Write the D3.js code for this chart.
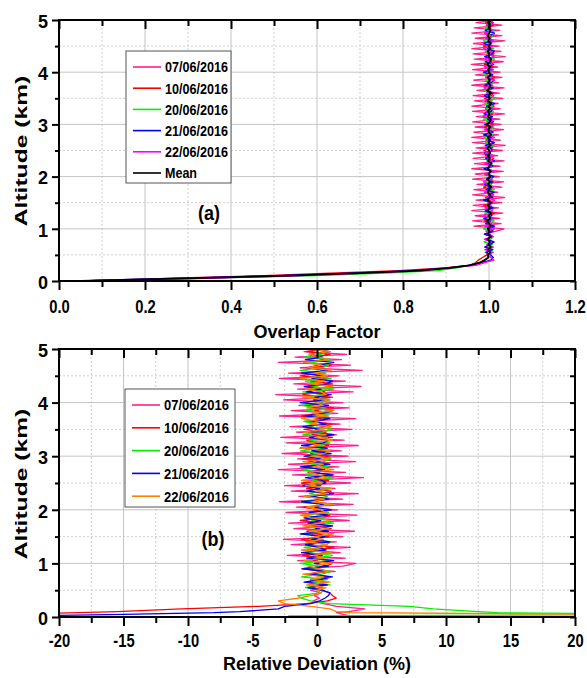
<!DOCTYPE html>
<html>
<head>
<meta charset="utf-8">
<script src="https://cdn.jsdelivr.net/npm/d3@7"></script>
<style>
  body { margin: 0; background: #fff; }
  text { font-family: "Liberation Sans", Arial, sans-serif; font-weight: bold; fill: #000; }
</style>
</head>
<body>
<svg id="chart" width="587" height="678"></svg>
<script>
// altitude grid (km), shared by every profile
const altitude = [
  0, 0.02, 0.05, 0.08, 0.1, 0.15, 0.2, 0.25, 0.3, 0.35,
  0.4, 0.45, 0.5, 0.55, 0.6, 0.65, 0.7, 0.75, 0.8, 0.85,
  0.9, 0.95, 1.0, 1.05, 1.1, 1.15, 1.2, 1.25, 1.3, 1.35,
  1.4, 1.45, 1.5, 1.55, 1.6, 1.65, 1.7, 1.75, 1.8, 1.85,
  1.9, 1.95, 2.0, 2.05, 2.1, 2.15, 2.2, 2.25, 2.3, 2.35,
  2.4, 2.45, 2.5, 2.55, 2.6, 2.65, 2.7, 2.75, 2.8, 2.85,
  2.9, 2.95, 3.0, 3.05, 3.1, 3.15, 3.2, 3.25, 3.3, 3.35,
  3.4, 3.45, 3.5, 3.55, 3.6, 3.65, 3.7, 3.75, 3.8, 3.85,
  3.9, 3.95, 4.0, 4.05, 4.1, 4.15, 4.2, 4.25, 4.3, 4.35,
  4.4, 4.45, 4.5, 4.55, 4.6, 4.65, 4.7, 4.75, 4.8, 4.85,
  4.9, 4.95, 5.0
];

// (a) overlap factor
const overlap0706 = [
  0.05, 0.15, 0.31, 0.45, 0.54, 0.72, 0.85, 0.915, 0.955, 0.978,
  0.990, 1.000, 0.996, 1.004, 0.994, 1.007, 0.995, 1.008, 0.992, 1.010,
  0.990, 1.015, 1.035, 0.965, 1.028, 0.962, 1.025, 0.968, 1.032, 0.960,
  1.022, 0.963, 1.030, 0.970, 1.036, 0.962, 1.020, 0.965, 1.030, 0.972,
  1.034, 0.962, 1.024, 0.968, 1.033, 0.960, 1.026, 0.966, 1.035, 0.963,
  1.020, 0.962, 1.031, 0.970, 1.038, 0.962, 1.027, 0.960, 1.022, 0.965,
  1.034, 0.968, 1.028, 0.962, 1.025, 0.970, 1.036, 0.962, 1.026, 0.960,
  1.021, 0.966, 1.032, 0.963, 1.024, 0.972, 1.035, 0.960, 1.022, 0.964,
  1.030, 0.968, 1.026, 0.962, 1.020, 0.959, 1.033, 0.966, 1.038, 0.963,
  1.028, 0.960, 1.023, 0.964, 1.037, 0.968, 1.030, 0.960, 1.025, 0.966,
  1.030, 0.970, 1.015
];
const overlap1006 = [
  0.05, 0.13, 0.25, 0.37, 0.46, 0.63, 0.79, 0.895, 0.955, 0.968,
  0.975, 0.985, 0.995, 0.996, 1.006, 0.992, 1.002, 1.009, 0.994, 1.004,
  0.990, 1.007, 1.012, 0.997, 1.005, 0.989, 1.008, 0.998, 1.013, 0.993,
  1.003, 0.988, 1.009, 1.001, 0.992, 1.011, 0.995, 1.006, 0.987, 1.004,
  1.010, 0.994, 1.002, 0.990, 1.012, 0.996, 1.007, 0.991, 1.005, 1.011,
  0.992, 1.003, 0.988, 1.009, 0.998, 1.013, 0.993, 1.004, 0.990, 1.008,
  1.002, 0.989, 1.010, 0.995, 1.006, 0.987, 1.009, 1.000, 0.992, 1.012,
  0.996, 1.007, 0.990, 1.005, 1.011, 0.994, 1.003, 0.988, 1.008, 0.998,
  1.013, 0.991, 1.004, 0.997, 1.010, 0.989, 1.006, 1.002, 0.993, 1.012,
  0.995, 1.008, 0.987, 1.003, 1.009, 0.994, 1.011, 0.990, 1.005, 0.998,
  1.010, 0.992, 1.004
];
const overlap2006 = [
  0.05, 0.16, 0.33, 0.48, 0.58, 0.76, 0.88, 0.925, 0.952, 0.975,
  1.012, 1.003, 1.005, 0.991, 1.010, 0.997, 1.008, 0.988, 1.004, 1.011,
  0.994, 1.002, 0.987, 1.009, 0.999, 1.012, 0.992, 1.005, 0.990, 1.007,
  1.011, 0.995, 1.003, 0.988, 1.008, 1.000, 0.991, 1.013, 0.996, 1.006,
  0.989, 1.009, 1.002, 0.993, 1.012, 0.987, 1.004, 1.008, 0.994, 1.001,
  1.010, 0.990, 1.006, 0.997, 1.013, 0.992, 1.002, 0.988, 1.009, 0.996,
  1.005, 1.011, 0.991, 1.003, 0.987, 1.007, 0.998, 1.010, 0.994, 1.008,
  0.989, 1.004, 1.012, 0.995, 1.000, 0.990, 1.009, 0.997, 1.011, 0.992,
  1.006, 0.988, 1.002, 1.010, 0.993, 1.005, 0.989, 1.013, 0.996, 1.003,
  0.991, 1.011, 0.998, 1.007, 0.987, 1.004, 1.009, 0.994, 1.012, 0.990,
  1.003, 1.008, 0.995
];
const overlap2106 = [
  0.05, 0.12, 0.26, 0.40, 0.49, 0.68, 0.82, 0.905, 0.950, 0.985,
  1.004, 1.010, 1.004, 0.993, 1.008, 0.990, 1.003, 1.012, 0.995, 1.006,
  0.989, 1.009, 0.998, 1.013, 0.992, 1.004, 0.988, 1.007, 1.001, 0.991,
  1.010, 0.996, 1.006, 0.987, 1.009, 0.999, 1.012, 0.993, 1.003, 0.990,
  1.008, 0.994, 1.011, 0.998, 1.005, 0.988, 1.009, 0.995, 1.013, 0.992,
  1.002, 0.989, 1.007, 1.004, 0.991, 1.012, 0.997, 1.006, 0.987, 1.010,
  0.993, 1.003, 0.990, 1.011, 0.996, 1.008, 0.988, 1.005, 1.009, 0.994,
  1.013, 0.992, 1.002, 0.989, 1.007, 0.997, 1.010, 0.991, 1.004, 1.012,
  0.995, 1.009, 0.987, 1.006, 0.998, 1.011, 0.992, 1.003, 0.990, 1.007,
  1.012, 0.996, 1.005, 0.988, 1.008, 0.993, 1.001, 1.013, 0.991, 1.004,
  0.994, 1.010, 0.997
];
const overlap2206 = [
  0.05, 0.17, 0.35, 0.45, 0.55, 0.71, 0.84, 0.90, 0.97, 0.99,
  1.010, 1.005, 0.998, 1.010, 0.990, 1.010, 0.995, 1.005, 0.989, 1.009,
  1.002, 0.993, 1.012, 0.990, 1.006, 0.997, 1.011, 0.988, 1.004, 1.008,
  0.991, 1.005, 0.998, 1.013, 0.994, 1.009, 0.989, 1.002, 1.010, 0.995,
  0.987, 1.007, 1.003, 0.992, 1.012, 0.996, 1.006, 0.990, 1.009, 0.999,
  1.011, 0.991, 1.004, 0.988, 1.008, 1.001, 0.994, 1.013, 0.997, 1.005,
  0.989, 1.009, 0.995, 1.006, 1.010, 0.987, 1.003, 0.993, 1.012, 0.998,
  1.007, 0.990, 1.004, 1.011, 0.994, 1.002, 0.988, 1.009, 0.996, 1.013,
  0.992, 1.005, 0.999, 1.010, 0.989, 1.007, 1.003, 0.991, 1.012, 0.995,
  1.006, 0.987, 1.008, 0.998, 1.011, 0.993, 1.004, 0.990, 1.009, 1.002,
  0.994, 1.010, 0.996
];
const overlapMean = [
  0.05, 0.15, 0.30, 0.43, 0.52, 0.70, 0.84, 0.91, 0.955, 0.978,
  0.990, 0.998, 0.998, 1.003, 0.997, 1.004, 0.999, 1.002, 0.996, 1.005,
  0.998, 1.001, 0.997, 1.004, 1.000, 0.996, 1.003, 0.999, 1.005, 0.997,
  1.002, 0.998, 1.004, 0.996, 1.001, 1.003, 0.997, 1.000, 1.005, 0.998,
  1.002, 0.996, 1.003, 0.999, 1.004, 0.997, 1.001, 1.005, 0.998, 1.002,
  0.997, 1.003, 1.000, 0.996, 1.004, 0.999, 1.002, 0.997, 1.005, 1.000,
  0.998, 1.003, 0.996, 1.002, 1.004, 0.998, 1.001, 0.997, 1.003, 0.999,
  1.005, 0.997, 1.002, 0.999, 1.004, 0.996, 1.001, 1.003, 0.998, 1.002,
  0.997, 1.004, 1.000, 0.998, 1.003, 0.996, 1.002, 1.005, 0.999, 1.001,
  0.997, 1.003, 0.999, 1.004, 0.998, 1.002, 0.996, 1.001, 1.003, 0.999,
  1.002, 0.998, 1.001
];

// (b) relative deviation from the mean (%)
const dev0706 = [
  3.0, 2.5, 2.0, 1.5, 2.5, 3.7, 1.5, 0.5, -0.3, 0.2,
  -0.2, 0.3, -0.5, 0.4, -0.6, 0.7, -0.5, 1.0, -0.9, 1.4,
  -1.2, 2.0, 3.0, -1.5, 2.2, -2.3, 1.8, -1.0, 2.6, -2.0,
  1.5, -2.6, 2.0, -1.2, 2.9, -1.8, 1.2, -2.2, 2.5, -0.8,
  3.1, -2.4, 1.6, -1.6, 2.8, -2.9, 2.0, -1.4, 3.2, -2.0,
  1.4, -2.5, 2.6, -1.1, 3.6, -1.9, 2.2, -3.0, 1.7, -2.2,
  3.0, -1.5, 2.4, -2.7, 1.9, -1.3, 3.2, -2.4, 2.1, -2.8,
  1.5, -1.6, 2.7, -2.1, 1.8, -1.0, 3.0, -2.9, 1.6, -2.0,
  2.5, -1.4, 2.0, -2.6, 1.2, -3.2, 2.8, -1.5, 3.4, -1.8,
  2.2, -2.9, 1.7, -2.2, 3.5, -1.3, 2.6, -3.0, 1.9, -1.7,
  2.3, -1.0, 1.2
];
const dev1006 = [
  -35, -30, -24, -18.5, -15.5, -10.5, -4.5, -0.8, 0.8, 1.5,
  1.2, 1.0, 0.3, -0.4, 0.6, -0.8, 0.2, 0.9, -0.6, 0.4,
  -1.0, 0.7, 1.2, -0.3, 0.5, -1.1, 0.8, -0.2, 1.3, -0.7,
  0.3, -1.2, 0.9, 0.1, -0.8, 1.1, -0.5, 0.6, -1.3, 0.4,
  1.0, -0.6, 0.2, -1.0, 1.2, -0.4, 0.7, -0.9, 0.5, 1.1,
  -0.8, 0.3, -1.2, 0.9, -0.2, 1.3, -0.7, 0.4, -1.0, 0.8,
  0.2, -1.1, 1.0, -0.5, 0.6, -1.3, 0.9, 0.0, -0.8, 1.2,
  -0.4, 0.7, -1.0, 0.5, 1.1, -0.6, 0.3, -1.2, 0.8, -0.2,
  1.3, -0.9, 0.4, -0.3, 1.0, -1.1, 0.6, 0.2, -0.7, 1.2,
  -0.5, 0.8, -1.3, 0.3, 0.9, -0.6, 1.1, -1.0, 0.5, -0.2,
  1.0, -0.8, 0.4
];
const dev2006 = [
  -2.0, -2.2, 30, 14, 12.5, 9.0, 7.2, 1.0, -0.5, -1.2,
  -1.5, 0.3, 0.5, -0.9, 1.0, -0.3, 0.8, -1.2, 0.4, 1.1,
  -0.6, 0.2, -1.3, 0.9, -0.1, 1.2, -0.8, 0.5, -1.0, 0.7,
  1.1, -0.5, 0.3, -1.2, 0.8, 0.0, -0.9, 1.3, -0.4, 0.6,
  -1.1, 0.9, 0.2, -0.7, 1.2, -1.3, 0.4, 0.8, -0.6, 0.1,
  1.0, -1.0, 0.6, -0.3, 1.3, -0.8, 0.2, -1.2, 0.9, -0.4,
  0.5, 1.1, -0.9, 0.3, -1.3, 0.7, -0.2, 1.0, -0.6, 0.8,
  -1.1, 0.4, 1.2, -0.5, 0.0, -1.0, 0.9, -0.3, 1.1, -0.8,
  0.6, -1.2, 0.2, 1.0, -0.7, 0.5, -1.1, 1.3, -0.4, 0.3,
  -0.9, 1.1, -0.2, 0.7, -1.3, 0.4, 0.9, -0.6, 1.2, -1.0,
  0.3, 0.8, -0.5
];
const dev2106 = [
  -30, -22, -15, -8, -6, -3.0, -2.5, -0.5, 0.2, 0.6,
  0.9, 1.0, 0.4, -0.7, 0.8, -1.0, 0.3, 1.2, -0.5, 0.6,
  -1.1, 0.9, -0.2, 1.3, -0.8, 0.4, -1.2, 0.7, 0.1, -0.9,
  1.0, -0.4, 0.6, -1.3, 0.9, -0.1, 1.2, -0.7, 0.3, -1.0,
  0.8, -0.6, 1.1, -0.2, 0.5, -1.2, 0.9, -0.5, 1.3, -0.8,
  0.2, -1.1, 0.7, 0.4, -0.9, 1.2, -0.3, 0.6, -1.3, 1.0,
  -0.7, 0.3, -1.0, 1.1, -0.4, 0.8, -1.2, 0.5, 0.9, -0.6,
  1.3, -0.8, 0.2, -1.1, 0.7, -0.3, 1.0, -0.9, 0.4, 1.2,
  -0.5, 0.9, -1.3, 0.6, -0.2, 1.1, -0.8, 0.3, -1.0, 0.7,
  1.2, -0.4, 0.5, -1.2, 0.8, -0.7, 0.1, 1.3, -0.9, 0.4,
  -0.6, 1.0, -0.3
];
const dev2206 = [
  40, 30, 22, 2.5, 1.5, 1.0, -0.5, -2.5, -3.0, -1.5,
  -0.5, 0.3, 0.0, 0.7, -0.8, 1.0, -0.4, 0.5, -1.1, 0.9,
  0.2, -0.7, 1.2, -1.0, 0.6, -0.3, 1.1, -1.2, 0.4, 0.8,
  -0.9, 0.5, -0.2, 1.3, -0.6, 0.9, -1.1, 0.2, 1.0, -0.5,
  -1.3, 0.7, 0.3, -0.8, 1.2, -0.4, 0.6, -1.0, 0.9, -0.1,
  1.1, -0.9, 0.4, -1.2, 0.8, 0.1, -0.6, 1.3, -0.3, 0.5,
  -1.1, 0.9, -0.5, 0.6, 1.0, -1.3, 0.3, -0.7, 1.2, -0.2,
  0.7, -1.0, 0.4, 1.1, -0.6, 0.2, -1.2, 0.9, -0.4, 1.3,
  -0.8, 0.5, -0.1, 1.0, -1.1, 0.7, 0.3, -0.9, 1.2, -0.5,
  0.6, -1.3, 0.8, -0.2, 1.1, -0.7, 0.4, -1.0, 0.9, 0.2,
  -0.6, 1.0, -0.4
];

const dates = ["07/06/2016", "10/06/2016", "20/06/2016", "21/06/2016", "22/06/2016"];
const altMajor = [0, 1, 2, 3, 4, 5];
const altMinor = [0.5, 1.5, 2.5, 3.5, 4.5];
const overlapMajor = [0, 0.2, 0.4, 0.6, 0.8, 1.0, 1.2];
const overlapMinor = [0.1, 0.3, 0.5, 0.7, 0.9, 1.1];
const devMajor = [-20, -15, -10, -5, 0, 5, 10, 15, 20];
const devMinor = [-17.5, -12.5, -7.5, -2.5, 2.5, 7.5, 12.5, 17.5];

const COLORS = {
  pink: "#ff1f8f",
  red: "#ff0000",
  green: "#00f000",
  blue: "#0000ff",
  magenta: "#ff00ff",
  orange: "#ff8000",
  mean: "#000000"
};

const svg = d3.select("#chart");
const LEFT = 59, RIGHT = 575;

function drawPanel(p) {
  var g = svg.append("g");
  var x = d3.scaleLinear().domain(p.xDomain).range([LEFT, RIGHT]);
  var y = d3.scaleLinear().domain([0, 5]).range([p.bottom, p.top]);

  // grid: dotted minor, solid major
  g.append("g").selectAll("line").data(p.xMinor).join("line")
    .attr("x1", d => x(d)).attr("x2", d => x(d))
    .attr("y1", p.top).attr("y2", p.bottom)
    .attr("stroke", "#cfcfcf").attr("stroke-dasharray", "2,2");
  g.append("g").selectAll("line").data(altMinor).join("line")
    .attr("x1", LEFT).attr("x2", RIGHT)
    .attr("y1", d => y(d)).attr("y2", d => y(d))
    .attr("stroke", "#cfcfcf").attr("stroke-dasharray", "2,2");
  g.append("g").selectAll("line").data(p.xMajor).join("line")
    .attr("x1", d => x(d)).attr("x2", d => x(d))
    .attr("y1", p.top).attr("y2", p.bottom)
    .attr("stroke", "#c4c4c4");
  g.append("g").selectAll("line").data(altMajor).join("line")
    .attr("x1", LEFT).attr("x2", RIGHT)
    .attr("y1", d => y(d)).attr("y2", d => y(d))
    .attr("stroke", "#c4c4c4");

  // profiles
  var clipId = "clip-" + p.name;
  svg.append("clipPath").attr("id", clipId).append("rect")
    .attr("x", LEFT).attr("y", p.top)
    .attr("width", RIGHT - LEFT).attr("height", p.bottom - p.top);

  var line = d3.line().x(d => x(d[1])).y(d => y(d[0]));
  g.append("g").attr("clip-path", "url(#" + clipId + ")")
    .selectAll("path").data(p.series).join("path")
    .attr("d", s => line(altitude.map((a, i) => [a, s.values[i]])))
    .attr("fill", "none")
    .attr("stroke", s => s.color)
    .attr("stroke-width", s => s.width || 1.3)
    .attr("stroke-linejoin", "round");

  // axes
  var bottom = g.append("g").attr("transform", "translate(0," + p.bottom + ")");
  bottom.append("g").call(d3.axisBottom(x).tickValues(p.xMinor).tickSize(6).tickFormat(""));
  bottom.append("g").call(d3.axisBottom(x).tickValues(p.xMajor).tickSize(9)
      .tickPadding(p.labelPad).tickFormat(p.fmt))
    .selectAll("text")
      .attr("font-size", 18)
      .attr("transform", "scale(0.82,1)");

  var top = g.append("g").attr("transform", "translate(0," + p.top + ")");
  top.append("g").call(d3.axisTop(x).tickValues(p.xMinor).tickSize(-6).tickFormat(""));
  top.append("g").call(d3.axisTop(x).tickValues(p.xMajor).tickSize(-9).tickFormat(""));

  var left = g.append("g").attr("transform", "translate(" + LEFT + ",0)");
  left.append("g").call(d3.axisLeft(y).tickValues(altMinor).tickSize(4).tickFormat(""));
  left.append("g").call(d3.axisLeft(y).tickValues(altMajor).tickSize(7).tickPadding(4)
      .tickFormat(d3.format("d")))
    .selectAll("text")
      .attr("font-size", 18)
      .attr("dy", "0.4em");

  var right = g.append("g").attr("transform", "translate(" + RIGHT + ",0)");
  right.append("g").call(d3.axisRight(y).tickValues(altMajor.concat(altMinor)).tickSize(-5).tickFormat(""));

  g.selectAll(".domain").remove();
  g.selectAll(".tick line").attr("stroke", "#000").attr("stroke-width", 2);
  g.selectAll(".tick text").attr("font-family", "Liberation Sans, Arial, sans-serif")
    .attr("font-weight", "bold").attr("fill", "#000");

  g.append("rect")
    .attr("x", LEFT).attr("y", p.top)
    .attr("width", RIGHT - LEFT).attr("height", p.bottom - p.top)
    .attr("fill", "none").attr("stroke", "#000").attr("stroke-width", 2);

  // titles
  g.append("text")
    .attr("x", (LEFT + RIGHT) / 2).attr("y", p.titleY)
    .attr("text-anchor", "middle").attr("font-size", 18)
    .text(p.xTitle);
  g.append("text")
    .attr("transform", "translate(27," + p.yTitleMid + ") rotate(-90) scale(1.45,1)")
    .attr("text-anchor", "middle").attr("font-size", 17)
    .text("Altitude (km)");
  g.append("text")
    .attr("transform", "translate(" + p.tag[0] + "," + p.tag[1] + ") scale(0.9,1)")
    .attr("text-anchor", "middle").attr("font-size", 20)
    .text(p.tagText);

  // legend
  var L = p.legend;
  var lg = g.append("g");
  lg.append("rect")
    .attr("x", L.x).attr("y", L.y).attr("width", L.w).attr("height", L.h)
    .attr("fill", "#fff").attr("stroke", "#555").attr("stroke-width", 1);
  var rows = lg.selectAll("g.row").data(p.series.filter(s => s.legend)).join("g")
    .attr("class", "row")
    .attr("transform", (s, i) => "translate(0," + (L.first + i * L.step) + ")");
  rows.append("line")
    .attr("x1", L.x + 7).attr("x2", L.x + 35)
    .attr("stroke", s => s.color).attr("stroke-width", 1.6);
  rows.append("text")
    .attr("x", L.x + 39).attr("dy", "0.36em").attr("font-size", 15)
    .attr("textLength", s => s.name === "Mean" ? 32 : L.textW)
    .attr("lengthAdjust", "spacingAndGlyphs")
    .text(s => s.name);
}

drawPanel({
  name: "a",
  top: 20, bottom: 281,
  xDomain: [0, 1.2], xMajor: overlapMajor, xMinor: overlapMinor,
  fmt: d3.format(".1f"), labelPad: 10,
  xTitle: "Overlap Factor", titleY: 338, yTitleMid: 151,
  tag: [209, 220], tagText: "(a)",
  legend: { x: 126, y: 51, w: 105, h: 132, first: 67, step: 21.2, textW: 63 },
  series: [
    { name: dates[0], color: COLORS.pink, values: overlap0706, legend: true },
    { name: dates[1], color: COLORS.red, values: overlap1006, legend: true },
    { name: dates[2], color: COLORS.green, values: overlap2006, legend: true },
    { name: dates[3], color: COLORS.blue, values: overlap2106, legend: true },
    { name: dates[4], color: COLORS.magenta, values: overlap2206, legend: true },
    { name: "Mean", color: COLORS.mean, values: overlapMean, legend: true, width: 1.8 }
  ]
});

drawPanel({
  name: "b",
  top: 349, bottom: 617,
  xDomain: [-20, 20], xMajor: devMajor, xMinor: devMinor,
  fmt: d => String(d), labelPad: 8,
  xTitle: "Relative Deviation (%)", titleY: 670, yTitleMid: 484,
  tag: [213, 546], tagText: "(b)",
  legend: { x: 125, y: 389, w: 110, h: 118, first: 405, step: 22.8, textW: 65 },
  series: [
    { name: dates[0], color: COLORS.pink, values: dev0706, legend: true },
    { name: dates[1], color: COLORS.red, values: dev1006, legend: true },
    { name: dates[2], color: COLORS.green, values: dev2006, legend: true },
    { name: dates[3], color: COLORS.blue, values: dev2106, legend: true },
    { name: dates[4], color: COLORS.orange, values: dev2206, legend: true }
  ]
});
</script>
</body>
</html>
